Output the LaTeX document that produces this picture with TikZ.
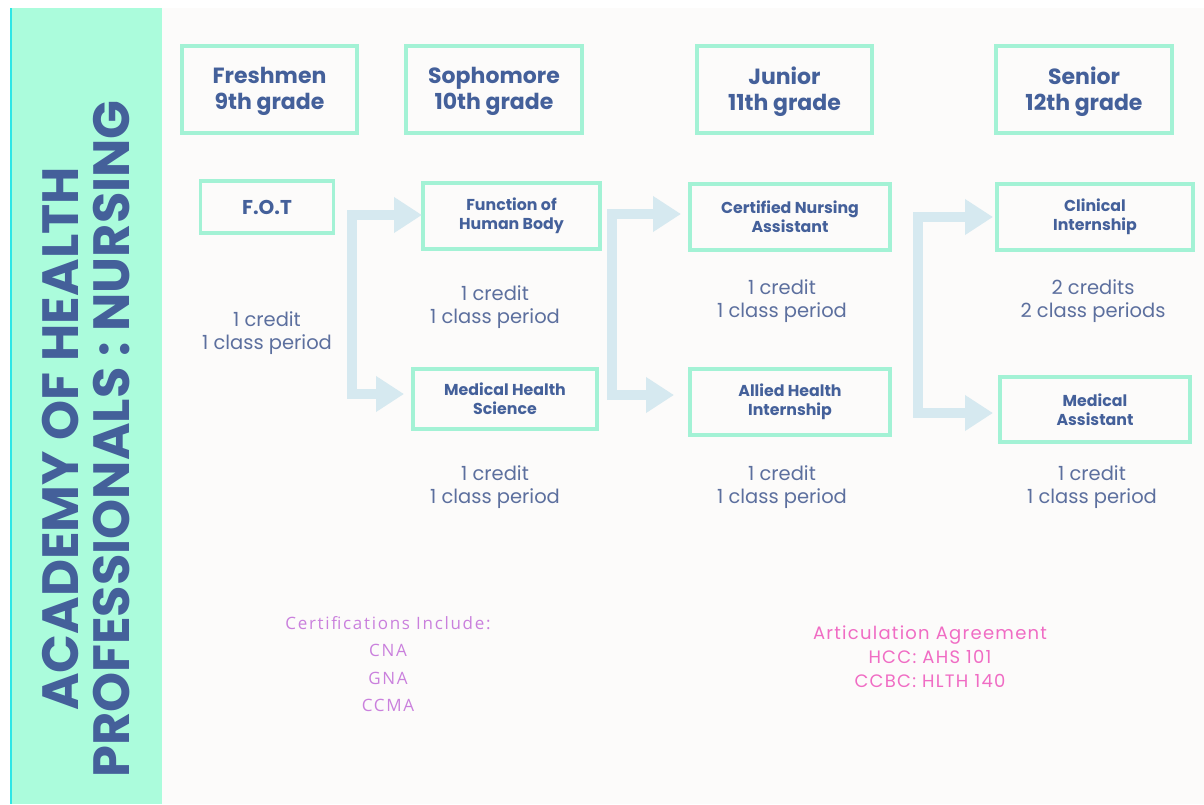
\documentclass[tikz,border=0pt]{standalone}
\usepackage{fontspec}
\setmainfont{Poppins}
\newfontfamily\popp{Poppins}
\newfontfamily\poppwide{Poppins}[LetterSpace=7]
\newfontfamily\osans{Open Sans}[LetterSpace=10]
\usetikzlibrary{arrows.meta}
\definecolor{mint}{HTML}{ABFCDC}
\definecolor{edge}{HTML}{A3F2D5}
\definecolor{cyanline}{HTML}{2EE6E6}
\definecolor{flowc}{HTML}{D6E9F0}
\definecolor{bg}{HTML}{FCFBFA}
\definecolor{navy}{HTML}{44609A}
\definecolor{soft}{HTML}{5C6F9E}
\definecolor{violet}{HTML}{CA80DD}
\definecolor{pinkc}{HTML}{F06CC4}
\tikzset{
  gradebox/.style={draw=edge, line width=3.5pt, fill=none, text=navy,
    font=\popp\bfseries\fontsize{22}{26}\selectfont, align=center, inner sep=0pt},
  gradelabel/.style={text=navy, font=\popp\bfseries\fontsize{22}{26}\selectfont, align=center, inner sep=0pt},
  coursebox/.style={draw=edge, line width=3.5pt, text=navy,
    font=\popp\bfseries\fontsize{15.8}{19}\selectfont, align=center, inner sep=0pt},
  credit/.style={text=soft, font=\popp\fontsize{19.5}{23.5}\selectfont, align=center, inner sep=0pt},
  flow/.style={draw=flowc, line width=10pt, line join=miter,
    {Triangle[width=34pt,length=28pt]}-{Triangle[width=34pt,length=28pt]}},
}
\begin{document}
\begin{tikzpicture}[x=1pt,y=-1pt]
\useasboundingbox (0,0) rectangle (1204,804);
\fill[white] (0,0) rectangle (1204,804);
\fill[bg] (11,8) rectangle (1204,804);
\fill[mint] (11,8) rectangle (162,804);
\draw[cyanline, line width=2pt] (11,8) -- (11,804);
\node[rotate=90, text=navy, font=\popp\bfseries\fontsize{51}{51}\selectfont, align=center, inner sep=0pt] (title) at (86,439) {ACADEMY OF HEALTH\\PROFESSIONALS : NURSING};

% grade headers
\node[gradebox, minimum width=175pt, minimum height=87pt] (fr) at (269.5,89.5) {};
\node[gradebox, minimum width=176pt, minimum height=87pt] (so) at (494,89.5) {};
\node[gradebox, minimum width=175pt, minimum height=87pt] (ju) at (784.5,89.5) {};
\node[gradebox, minimum width=176pt, minimum height=87pt] (se) at (1084,89.5) {};
\node[gradelabel] (frt) at ([yshift=-2pt]fr.center) {Freshmen\\9th grade};
\node[gradelabel] (sot) at ([yshift=-2pt]so.center) {Sophomore\\10th grade};
\node[gradelabel] (jut) at ([yshift=-2pt]ju.center) {Junior\\11th grade};
\node[gradelabel] (set) at ([yshift=-2pt]se.center) {Senior\\12th grade};

% courses
\node[coursebox, minimum width=133pt, minimum height=52pt, font=\popp\bfseries\fontsize{20}{20}\selectfont] (fot) at (267,207) {F.O.T};
\node[coursebox, minimum width=177pt, minimum height=66pt] (fhb) at (511.5,216) {Function of\\Human Body};
\node[coursebox, minimum width=184pt, minimum height=60pt] (mhs) at (505,399) {Medical Health\\Science};
\node[coursebox, minimum width=200pt, minimum height=66pt] (cna) at (790,217) {Certified Nursing\\Assistant};
\node[coursebox, minimum width=200pt, minimum height=66pt] (ahi) at (790,402) {Allied Health\\Internship};
\node[coursebox, minimum width=196pt, minimum height=66pt] (cli) at (1095,217) {Clinical\\Internship};
\node[coursebox, minimum width=190pt, minimum height=65pt] (mas) at (1095,409.5) {Medical\\Assistant};

% credits
\node[credit] (c0) at (267,333) {1 credit\\1 class period};
\node[credit] (c1) at (495,307) {1 credit\\1 class period};
\node[credit] (c2) at (782,301) {1 credit\\1 class period};
\node[credit] (c3) at (1093,301) {2 credits\\2 class periods};
\node[credit] (c4) at (495,487) {1 credit\\1 class period};
\node[credit] (c5) at (782,487) {1 credit\\1 class period};
\node[credit] (c6) at (1092,487) {1 credit\\1 class period};

% flow brackets
\coordinate (k1a) at (352,215); \coordinate (k1b) at (352,394);
\coordinate (t1a) at (422,215); \coordinate (t1b) at (404,394);
\draw[flow] (t1a) -- (k1a) -- (k1b) -- (t1b);
\coordinate (k2a) at (612,214); \coordinate (k2b) at (612,395);
\coordinate (t2a) at (681,214); \coordinate (t2b) at (674,395);
\draw[flow] (t2a) -- (k2a) -- (k2b) -- (t2b);
\coordinate (k3a) at (918,217); \coordinate (k3b) at (918,413);
\coordinate (t3a) at (993,217); \coordinate (t3b) at (993,413);
\draw[flow] (t3a) -- (k3a) -- (k3b) -- (t3b);

% notes
\node[text=violet, font=\osans\fontsize{17}{27.3}\selectfont, align=center, inner sep=0pt] (cert) at (388,664) {Certifications Include:\\CNA\\GNA\\CCMA};
\node[text=pinkc, font=\poppwide\fontsize{18}{24}\selectfont, align=center, inner sep=0pt] (art) at (930,657) {Articulation Agreement\\HCC: AHS 101\\CCBC: HLTH 140};
\end{tikzpicture}
\end{document}
